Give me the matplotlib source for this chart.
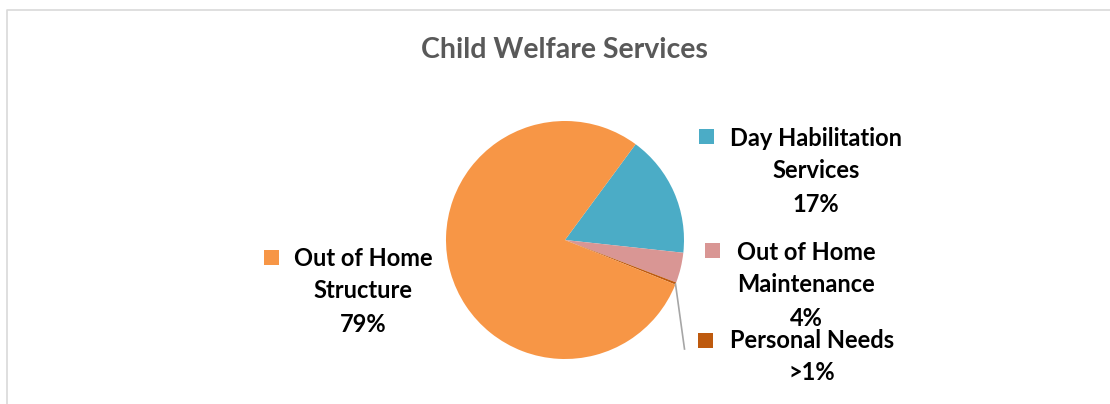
import matplotlib
matplotlib.use("Agg")
import matplotlib.pyplot as plt
from matplotlib.patches import Rectangle

W, H = 1110, 404

title = "Child Welfare Services"
categories = ["Day Habilitation\nServices", "Out of Home\nMaintenance", "Personal Needs", "Out of Home\nStructure"]
values = [16.6, 4.1, 0.3, 79.0]
pct_labels = ["17%", "4%", ">1%", "79%"]
colors = ["#4BACC6", "#D99694", "#BE5A0E", "#F79646"]

plt.rcParams['font.family'] = ['Lato', 'DejaVu Sans']

fig = plt.figure(figsize=(W / 100, H / 100), dpi=100)
ax = fig.add_axes([0, 0, 1, 1])
ax.set_xlim(0, W)
ax.set_ylim(0, H)
ax.axis("off")

def Y(y):
    return H - y

# chart border (extends past right/bottom edge)
ax.plot([6.5, 6.5, W + 5], [Y(H + 5), Y(9.5), Y(9.5)], color="#D9D9D9", lw=1.2, solid_capstyle="butt")

cx, cy, r = 565, 240, 119
wedges, _ = ax.pie(values, colors=colors, startangle=53.6, counterclock=False,
                   center=(cx, Y(cy)), radius=r, frame=True,
                   wedgeprops=dict(linewidth=0))
ax.set_xlim(0, W)
ax.set_ylim(0, H)
ax.set_aspect("equal")
ax.axis("off")

ax.text(564, Y(50), title, ha="center", va="center", fontsize=20.5,
        fontweight="bold", color="#595959")

# leader line for Personal Needs
ax.plot([675.5, 684.5], [Y(284), Y(349)], color="#A6A6A6", lw=1.2)

label_pos = [  # (text center x, first line y, marker x, marker y)
    (816, 138, 699, 129),
    (806, 252, 705, 243),
    (812, 340, 698, 333),
    (363, 258, 264, 250),
]
line_h = 33
for (tx, ty, mx, my), cat, pct, col in zip(label_pos, categories, pct_labels, colors):
    lines = cat.split("\n") + [pct]
    for i, ln in enumerate(lines):
        ax.text(tx, Y(ty + i * line_h), ln, ha="center", va="center",
                fontsize=17, fontweight="bold", color="black")
    ax.add_patch(Rectangle((mx, Y(my + 15)), 15, 15, color=col, lw=0))

fig.savefig("out.png", dpi=100)
